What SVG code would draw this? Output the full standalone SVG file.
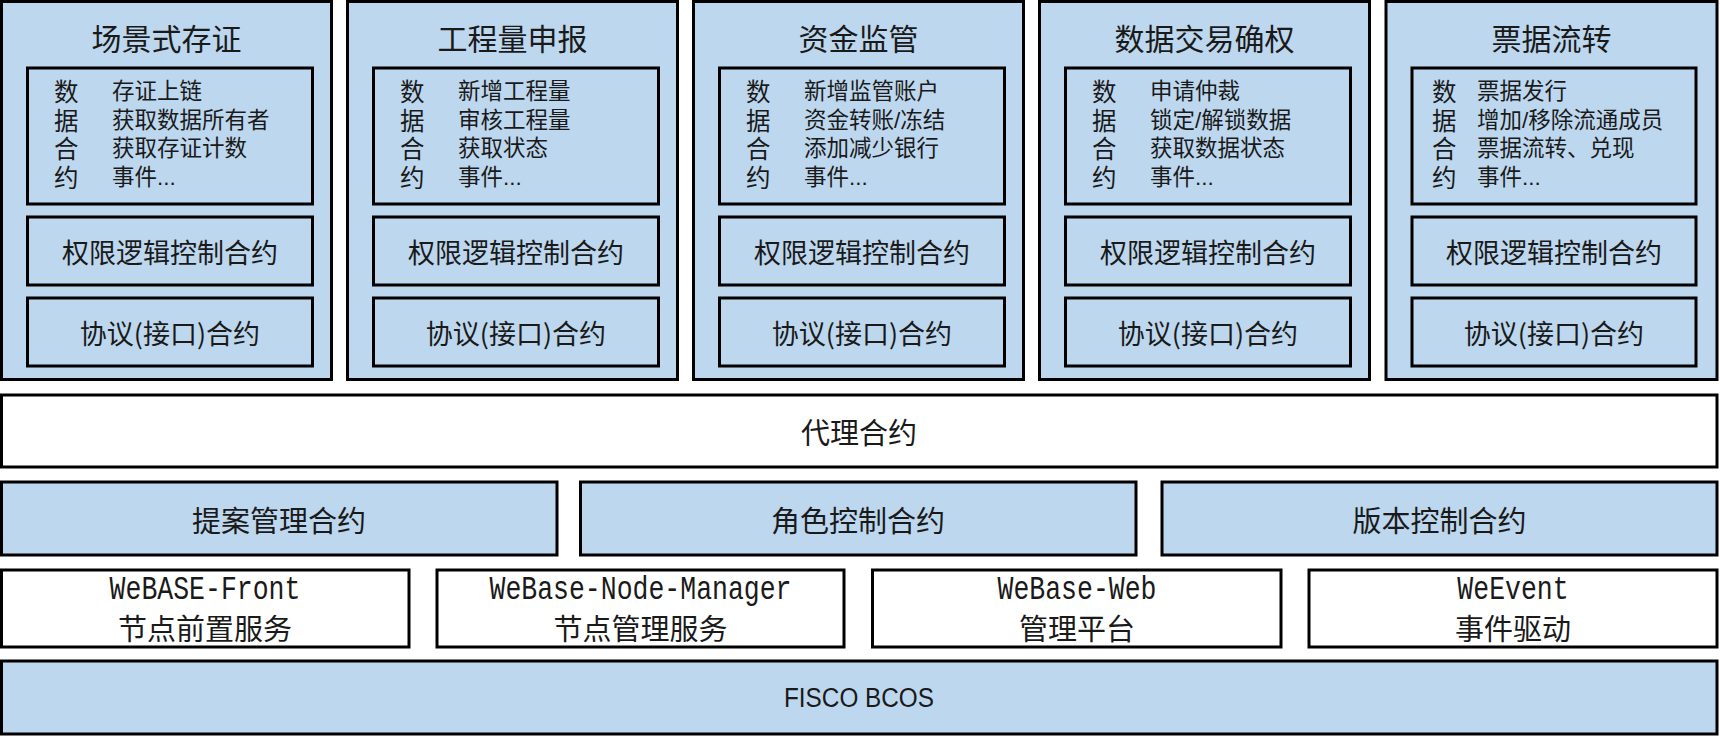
<svg xmlns="http://www.w3.org/2000/svg" width="1720" height="736" viewBox="0 0 1720 736">
<style>
.b{fill:#BDD7EE;stroke:#000;stroke-width:3}
.w{fill:#FFFFFF;stroke:#000;stroke-width:3}
text{font-family:"Noto Sans CJK SC","Liberation Sans",sans-serif;fill:#1a1a1a;dominant-baseline:central}
.t{font-size:30px;text-anchor:middle}
.d{font-family:"Liberation Sans","Noto Sans CJK SC",sans-serif;font-size:22.5px}
.l{font-family:"Liberation Sans","Noto Sans CJK SC",sans-serif;font-size:24.5px}
.m{font-size:27px;text-anchor:middle}
.r{font-size:29px;text-anchor:middle}
.mono{font-family:"Liberation Mono",monospace;font-size:26.5px;text-anchor:middle}
.cn{font-size:29px;text-anchor:middle}
.f{font-family:"Liberation Sans",sans-serif;font-size:27px;text-anchor:middle}
</style>
<rect width="1720" height="736" fill="#FFFFFF"/>

<g id="col1">
<rect class="b" x="1.5" y="1.5" width="330" height="378"/>
<text class="t" x="166.5" y="37">场景式存证</text>
<rect class="b" x="27.5" y="68" width="285" height="136"/>
<text class="l"><tspan x="54" y="92">数</tspan><tspan x="54" y="120.5">据</tspan><tspan x="54" y="149">合</tspan><tspan x="54" y="177.5">约</tspan></text>
<text class="d"><tspan x="112" y="91">存证上链</tspan><tspan x="112" y="119.5">获取数据所有者</tspan><tspan x="112" y="148">获取存证计数</tspan><tspan x="112" y="176.5">事件...</tspan></text>
<rect class="b" x="27.5" y="217" width="285" height="68"/>
<text class="m" x="170" y="251">权限逻辑控制合约</text>
<rect class="b" x="27.5" y="298" width="285" height="68"/>
<text class="m" x="170" y="332">协议(接口)合约</text>
</g>

<g id="col2">
<rect class="b" x="347.5" y="1.5" width="330" height="378"/>
<text class="t" x="512.5" y="37">工程量申报</text>
<rect class="b" x="373.5" y="68" width="285" height="136"/>
<text class="l"><tspan x="400" y="92">数</tspan><tspan x="400" y="120.5">据</tspan><tspan x="400" y="149">合</tspan><tspan x="400" y="177.5">约</tspan></text>
<text class="d"><tspan x="458" y="91">新增工程量</tspan><tspan x="458" y="119.5">审核工程量</tspan><tspan x="458" y="148">获取状态</tspan><tspan x="458" y="176.5">事件...</tspan></text>
<rect class="b" x="373.5" y="217" width="285" height="68"/>
<text class="m" x="516" y="251">权限逻辑控制合约</text>
<rect class="b" x="373.5" y="298" width="285" height="68"/>
<text class="m" x="516" y="332">协议(接口)合约</text>
</g>

<g id="col3">
<rect class="b" x="693.5" y="1.5" width="330" height="378"/>
<text class="t" x="858.5" y="37">资金监管</text>
<rect class="b" x="719.5" y="68" width="285" height="136"/>
<text class="l"><tspan x="746" y="92">数</tspan><tspan x="746" y="120.5">据</tspan><tspan x="746" y="149">合</tspan><tspan x="746" y="177.5">约</tspan></text>
<text class="d"><tspan x="804" y="91">新增监管账户</tspan><tspan x="804" y="119.5">资金转账/冻结</tspan><tspan x="804" y="148">添加减少银行</tspan><tspan x="804" y="176.5">事件...</tspan></text>
<rect class="b" x="719.5" y="217" width="285" height="68"/>
<text class="m" x="862" y="251">权限逻辑控制合约</text>
<rect class="b" x="719.5" y="298" width="285" height="68"/>
<text class="m" x="862" y="332">协议(接口)合约</text>
</g>

<g id="col4">
<rect class="b" x="1039.5" y="1.5" width="330" height="378"/>
<text class="t" x="1204.5" y="37">数据交易确权</text>
<rect class="b" x="1065.5" y="68" width="285" height="136"/>
<text class="l"><tspan x="1092" y="92">数</tspan><tspan x="1092" y="120.5">据</tspan><tspan x="1092" y="149">合</tspan><tspan x="1092" y="177.5">约</tspan></text>
<text class="d"><tspan x="1150" y="91">申请仲裁</tspan><tspan x="1150" y="119.5">锁定/解锁数据</tspan><tspan x="1150" y="148">获取数据状态</tspan><tspan x="1150" y="176.5">事件...</tspan></text>
<rect class="b" x="1065.5" y="217" width="285" height="68"/>
<text class="m" x="1208" y="251">权限逻辑控制合约</text>
<rect class="b" x="1065.5" y="298" width="285" height="68"/>
<text class="m" x="1208" y="332">协议(接口)合约</text>
</g>

<g id="col5">
<rect class="b" x="1386" y="1.5" width="331" height="378"/>
<text class="t" x="1551.5" y="37">票据流转</text>
<rect class="b" x="1412" y="68" width="284" height="136"/>
<text class="l"><tspan x="1432" y="92">数</tspan><tspan x="1432" y="120.5">据</tspan><tspan x="1432" y="149">合</tspan><tspan x="1432" y="177.5">约</tspan></text>
<text class="d"><tspan x="1477" y="91">票据发行</tspan><tspan x="1477" y="119.5">增加/移除流通成员</tspan><tspan x="1477" y="148">票据流转、兑现</tspan><tspan x="1477" y="176.5">事件...</tspan></text>
<rect class="b" x="1412" y="217" width="284" height="68"/>
<text class="m" x="1554" y="251">权限逻辑控制合约</text>
<rect class="b" x="1412" y="298" width="284" height="68"/>
<text class="m" x="1554" y="332">协议(接口)合约</text>
</g>

<g id="proxy">
<rect class="w" x="1.5" y="395" width="1715.5" height="72"/>
<text class="r" x="859" y="431">代理合约</text>
</g>

<g id="proposal">
<rect class="b" x="1.5" y="482" width="555.5" height="73"/>
<text class="r" x="279" y="518.5">提案管理合约</text>
</g>
<g id="role">
<rect class="b" x="580.5" y="482" width="555.5" height="73"/>
<text class="r" x="858" y="518.5">角色控制合约</text>
</g>
<g id="version">
<rect class="b" x="1162" y="482" width="555" height="73"/>
<text class="r" x="1439.5" y="518.5">版本控制合约</text>
</g>

<g id="front">
<rect class="w" x="1.5" y="570" width="407.5" height="77"/>
<text class="mono" transform="translate(205 590) scale(1 1.25)">WeBASE-Front</text>
<text class="cn" x="205" y="627">节点前置服务</text>
</g>
<g id="nodemgr">
<rect class="w" x="437" y="570" width="407" height="77"/>
<text class="mono" transform="translate(640.5 590) scale(1 1.25)">WeBase-Node-Manager</text>
<text class="cn" x="640.5" y="627">节点管理服务</text>
</g>
<g id="web">
<rect class="w" x="872.5" y="570" width="408.5" height="77"/>
<text class="mono" transform="translate(1077 590) scale(1 1.25)">WeBase-Web</text>
<text class="cn" x="1077" y="627">管理平台</text>
</g>
<g id="weevent">
<rect class="w" x="1309" y="570" width="408" height="77"/>
<text class="mono" transform="translate(1513 590) scale(1 1.25)">WeEvent</text>
<text class="cn" x="1513" y="627">事件驱动</text>
</g>

<g id="fisco">
<rect class="b" x="1.5" y="661" width="1715.5" height="73"/>
<text class="f" x="859" y="698" textLength="150" lengthAdjust="spacingAndGlyphs">FISCO BCOS</text>
</g>

<g id="connectors"></g>
</svg>
